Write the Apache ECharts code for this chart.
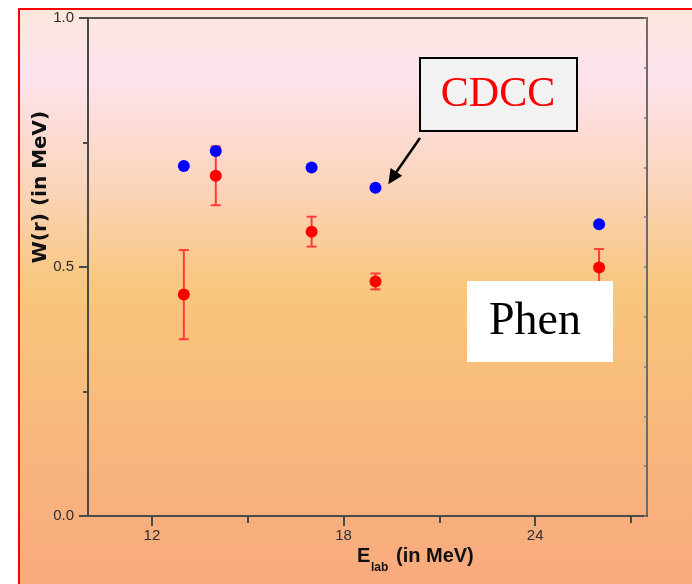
<!DOCTYPE html>
<html>
<head>
<meta charset="utf-8">
<script src="https://cdn.jsdelivr.net/npm/echarts@6/dist/echarts.min.js"></script>
<style>
html,body{margin:0;padding:0;background:#ffffff;}
#chart{width:692px;height:584px;}
</style>
</head>
<body>
<div id="chart"></div>
<script>
// ---- data ----
const energies   = [13, 14, 17, 19, 26];
const cdccValues = [0.703, 0.733, 0.700, 0.659, 0.586];
const phenValues = [0.445, 0.683, 0.571, 0.471, 0.499];
const phenLow    = [0.355, 0.624, 0.541, 0.455, 0.462];
const phenHigh   = [0.534, 0.742, 0.601, 0.487, 0.536];
const xMajorTicks = [12, 18, 24];
const xMinorTicks = [15, 21, 27];
const yTickLabels = [0.0, 0.5, 1.0];

const cdccData = energies.map((e, i) => [e, cdccValues[i]]);
const phenData = energies.map((e, i) => [e, phenValues[i]]);
const errData  = energies.map((e, i) => [e, phenLow[i], phenHigh[i]]);

const chart = echarts.init(document.getElementById('chart'), null, {renderer: 'canvas'});
const axisColor = '#4a4a4a';
const labelFont = {fontFamily: 'Liberation Sans, Arial, sans-serif', fontSize: 15, color: '#2e2e2e'};
const errColor = '#ff3a3a';

const option = {
  animation: false,
  backgroundColor: '#ffffff',
  grid: {left: 88, top: 18, right: 45, bottom: 68, show: true, borderColor: '#555555', borderWidth: 2, backgroundColor: 'transparent'},
  xAxis: [
    {
      type: 'value', min: 10, max: 27.5, position: 'bottom',
      axisLine: {show: true, onZero: false, lineStyle: {color: axisColor, width: 2}},
      axisTick: {show: true, length: 10, customValues: xMajorTicks, lineStyle: {color: axisColor, width: 2}},
      axisLabel: Object.assign({show: true, margin: 12, customValues: xMajorTicks}, labelFont),
      splitLine: {show: false}
    },
    {
      type: 'value', min: 10, max: 27.5, position: 'bottom',
      axisLine: {show: false, onZero: false},
      axisTick: {show: true, length: 7, customValues: xMinorTicks, lineStyle: {color: axisColor, width: 2}},
      axisLabel: {show: false},
      splitLine: {show: false}
    }
  ],
  yAxis: [
    {
      type: 'value', min: 0, max: 1, interval: 0.5, position: 'left',
      axisLine: {show: true, onZero: false, lineStyle: {color: axisColor, width: 2}},
      axisTick: {show: true, length: 9, lineStyle: {color: axisColor, width: 2}},
      minorTick: {show: true, splitNumber: 2, length: 5, lineStyle: {color: axisColor, width: 2}},
      axisLabel: Object.assign({margin: 14, formatter: v => (yTickLabels.indexOf(v) >= 0 ? v.toFixed(1) : '')}, labelFont),
      splitLine: {show: false},
      minorSplitLine: {show: false}
    },
    {
      type: 'value', min: 0, max: 1, interval: 0.1, position: 'right',
      axisLine: {show: true, onZero: false, lineStyle: {color: '#6b6b6b', width: 2}},
      axisTick: {show: true, inside: true, length: 3, lineStyle: {color: '#7a7a7a', width: 1.5}},
      axisLabel: {show: false},
      splitLine: {show: false}
    }
  ],
  series: [
    {
      type: 'custom', xAxisIndex: 0, yAxisIndex: 0, z: 2,
      data: errData,
      encode: {x: 0, y: [1, 2]},
      renderItem: function (params, api) {
        const x = api.value(0);
        const pLo = api.coord([x, api.value(1)]);
        const pHi = api.coord([x, api.value(2)]);
        const hw = 5;
        const st = {stroke: errColor, lineWidth: 2};
        return {type: 'group', children: [
          {type: 'line', shape: {x1: pLo[0], y1: pLo[1], x2: pHi[0], y2: pHi[1]}, style: st},
          {type: 'line', shape: {x1: pLo[0] - hw, y1: pLo[1], x2: pLo[0] + hw, y2: pLo[1]}, style: st},
          {type: 'line', shape: {x1: pHi[0] - hw, y1: pHi[1], x2: pHi[0] + hw, y2: pHi[1]}, style: st}
        ]};
      }
    },
    {
      type: 'scatter', xAxisIndex: 0, yAxisIndex: 0, z: 3,
      data: phenData, symbol: 'circle', symbolSize: 12,
      itemStyle: {color: '#ff0000', opacity: 1}
    },
    {
      type: 'scatter', xAxisIndex: 0, yAxisIndex: 0, z: 4,
      data: cdccData, symbol: 'circle', symbolSize: 12,
      itemStyle: {color: '#0000ff', opacity: 1}
    }
  ],
  graphic: [
    {
      type: 'rect', z: -100, silent: true,
      shape: {x: 19, y: 9, width: 700, height: 600},
      style: {
        fill: new echarts.graphic.LinearGradient(0, 0, 0, 1, [
          {offset: 0, color: '#fce7dc'},
          {offset: 0.11, color: '#fde3ee'},
          {offset: 0.29, color: '#fbd5bc'},
          {offset: 0.47, color: '#f8c67c'},
          {offset: 0.65, color: '#f8bb7c'},
          {offset: 1, color: '#f9a77e'}
        ]),
        stroke: '#ff0000', lineWidth: 2
      }
    },
    {
      type: 'text', z: 50, x: 41, y: 187, rotation: Math.PI / 2,
      style: {text: 'W(r) (in MeV)', fontFamily: 'DejaVu Sans', fontWeight: 'bold', fontSize: 20, fill: '#111111', align: 'center', verticalAlign: 'middle'}
    },
    {
      type: 'text', z: 50, x: 357, y: 556,
      style: {text: 'E', fontFamily: 'Liberation Sans, Arial', fontWeight: 'bold', fontSize: 20, fill: '#111111', align: 'left', verticalAlign: 'middle'}
    },
    {
      type: 'text', z: 50, x: 371, y: 568,
      style: {text: 'lab', fontFamily: 'Liberation Sans, Arial', fontWeight: 'bold', fontSize: 12, fill: '#111111', align: 'left', verticalAlign: 'middle'}
    },
    {
      type: 'text', z: 50, x: 396, y: 556,
      style: {text: '(in MeV)', fontFamily: 'Liberation Sans, Arial', fontWeight: 'bold', fontSize: 20, fill: '#111111', align: 'left', verticalAlign: 'middle'}
    },
    {
      type: 'rect', z: 60,
      shape: {x: 420, y: 58, width: 157, height: 73},
      style: {fill: '#f2f2f2', stroke: '#000000', lineWidth: 2}
    },
    {
      type: 'text', z: 61, x: 498, y: 95,
      style: {text: 'CDCC', fontFamily: 'Liberation Serif, Times New Roman, serif', fontSize: 42, fill: '#ff0000', align: 'center', verticalAlign: 'middle'}
    },
    {
      type: 'polyline', z: 60,
      shape: {points: [[420, 138], [395, 174]]},
      style: {stroke: '#000000', lineWidth: 2.5}
    },
    {
      type: 'polygon', z: 60,
      shape: {points: [[388.3, 184.3], [402.2, 175.8], [390.6, 168]]},
      style: {fill: '#000000'}
    },
    {
      type: 'rect', z: 60,
      shape: {x: 467, y: 281, width: 146, height: 81},
      style: {fill: '#ffffff'}
    },
    {
      type: 'text', z: 61, x: 535, y: 322,
      style: {text: 'Phen', fontFamily: 'Liberation Serif, Times New Roman, serif', fontSize: 46, fill: '#000000', align: 'center', verticalAlign: 'middle'}
    }
  ]
};
chart.setOption(option);
</script>
</body>
</html>
